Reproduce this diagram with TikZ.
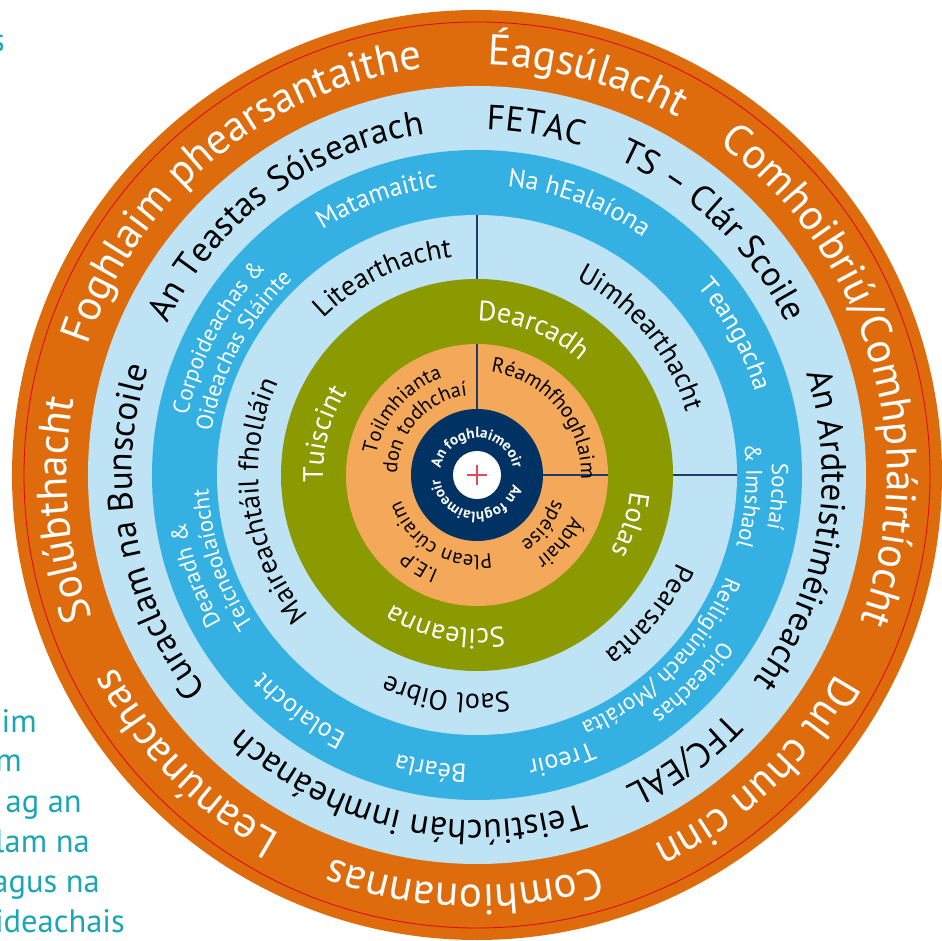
\documentclass[tikz,border=0pt]{standalone}
\usepackage{fontspec}
\setmainfont{PT Sans}
\usetikzlibrary{decorations.text}
\definecolor{orng}{HTML}{DE6B0C}
\definecolor{lblue}{HTML}{BDE3F5}
\definecolor{mblue}{HTML}{34B1E2}
\definecolor{olive}{HTML}{8A9A00}
\definecolor{peach}{HTML}{F4A95A}
\definecolor{navy}{HTML}{003263}
\definecolor{divl}{HTML}{1E3A6E}
\definecolor{redl}{HTML}{E2001A}
\definecolor{crossred}{HTML}{E8465A}
\definecolor{tealt}{HTML}{1BA5B5}
% #1 radius, #2 centre angle, #3 font, #4 colour, #5 text
\newcommand\rtext[5]{%
  \path[decorate,decoration={text along path,text color=#4,text align=center,
    text={|#3|#5}}]
    (#2+120:#1pt) arc[start angle=#2+120,end angle=#2-120,radius=#1pt];}
\newcommand\fO{\fontsize{43}{43}\selectfont}
\newcommand\fA{\fontsize{35}{35}\selectfont}
\newcommand\fB{\fontsize{26}{26}\selectfont}
\newcommand\fBt{\fontsize{23}{23}\selectfont}
\newcommand\fC{\fontsize{28}{28}\selectfont}
\newcommand\fD{\fontsize{28}{28}\selectfont}
\newcommand\fE{\fontsize{21}{21}\selectfont}
\newcommand\fEt{\fontsize{20.5}{20.5}\selectfont}
\newcommand\fN{\fontsize{15}{15}\selectfont\bfseries}
\tikzset{
  divider/.style={draw=divl,line width=1.4pt},
  tealtxt/.style={text=tealt,font=\fontsize{32.5}{32.5}\selectfont,inner sep=0pt,anchor=base east}
}
\begin{document}
\begin{tikzpicture}[x=1pt,y=1pt]
\useasboundingbox (-477,-466) rectangle (465,475);
% rings
\fill[orng] (0,0) circle[radius=465pt];
\draw[redl,line width=0.8pt] (0,0) circle[radius=453pt];
\fill[lblue] (0,0) circle[radius=389pt];
\fill[mblue] (0,0) circle[radius=325pt];
\fill[lblue] (0,0) circle[radius=260pt];
\fill[olive] (0,0) circle[radius=196pt];
\fill[peach] (0,0) circle[radius=131pt];
\fill[navy] (0,0) circle[radius=66pt];
\fill[white] (0,0) circle[radius=24pt];
\draw[crossred,line width=1.3pt] (-10,0) -- (10,0) (0,-10) -- (0,10);
% dividers
\draw[divider] (90:196pt) -- (90:260pt);
\draw[divider] (0:196pt) -- (0:260pt);
\draw[divider] (90:66pt) -- (90:131pt);
\draw[divider] (0:66pt) -- (0:131pt);
% outer orange ring
\rtext{410}{129.6}{\fO}{white}{Foghlaim phearsantaithe}
\rtext{410}{74.6}{\fO}{white}{Éagsúlacht}
\rtext{410}{16.5}{\fO}{white}{Comhoibriú/Comhpháirtíocht}
\rtext{410}{-46.7}{\fO}{white}{Dul chun cinn}
\rtext{410}{-91.8}{\fO}{white}{Comhionannas}
\rtext{410}{-135.4}{\fO}{white}{Leanúnachas}
\rtext{410}{184.8}{\fO}{white}{Solúbthacht}
% outer light blue ring
\rtext{345}{190.2}{\fA}{black}{Curaclam na Bunscoile}
\rtext{345}{126.3}{\fA}{black}{An Teastas Sóisearach}
\rtext{345}{80.4}{\fA}{black}{FETAC}
\rtext{345}{46}{\fA}{black}{TS – Clár Scoile}
\rtext{345}{-9.8}{\fA}{black}{An Ardteistiméireacht}
\rtext{345}{-54}{\fA}{black}{TFC/EAL}
\rtext{345}{-102.5}{\fA}{black}{Teistiúchán inmheánach}
% middle blue ring
\rtext{290}{110}{\fB}{white}{Matamaitic}
\rtext{290}{69.5}{\fB}{white}{Na hEalaíona}
\rtext{290}{28.5}{\fB}{white}{Teangacha}
\rtext{295}{-4.1}{\fBt}{white}{Sochaí}
\rtext{269}{-4.4}{\fBt}{white}{{\&} Imshaol}
\rtext{295}{-43.9}{\fBt}{white}{Oideachas}
\rtext{269}{-44.7}{\fBt}{white}{Reiligiúnach /Morálta}
\rtext{290}{-73.4}{\fB}{white}{Treoir}
\rtext{290}{-99}{\fB}{white}{Béarla}
\rtext{290}{-127}{\fB}{white}{Eolaíocht}
\rtext{295}{199.6}{\fBt}{white}{Dearadh {\&}}
\rtext{269}{198.4}{\fBt}{white}{Teicneolaíocht}
\rtext{295}{152}{\fBt}{white}{Corpoideachas {\&}}
\rtext{269}{152}{\fBt}{white}{Oideachas Sláinte}
% inner light blue ring
\rtext{219}{115.5}{\fC}{black}{Litearthacht}
\rtext{219}{39.9}{\fC}{black}{Uimhearthacht}
\rtext{219}{-39}{\fC}{black}{Pearsanta}
\rtext{219}{-98}{\fC}{black}{Saol Oibre}
\rtext{219}{187.4}{\fC}{black}{Maireachtáil fholláin}
% green ring
\rtext{154}{68.8}{\fD}{white}{Dearcadh}
\rtext{154}{-17.9}{\fD}{white}{Eolas}
\rtext{154}{-101.6}{\fD}{white}{Scileanna}
\rtext{154}{165}{\fD}{white}{Tuiscint}
% peach ring
\rtext{104}{40}{\fE}{black}{Réamhfhoghlaim}
\rtext{103}{139}{\fEt}{black}{Toilmhianta}
\rtext{80}{138}{\fEt}{black}{don todhchaí}
\rtext{103}{-39.4}{\fEt}{black}{Ábhair}
\rtext{80}{-37.6}{\fEt}{black}{spéise}
\rtext{103}{-122}{\fEt}{black}{I.E.P}
\rtext{80}{-120.7}{\fEt}{black}{Plean cúraim}
% navy centre
\rtext{37}{90.5}{\fN}{white}{An foghlaimeoir}
\rtext{37}{-94}{\fN}{white}{An foghlaimeoir}
% teal side text
\node[tealtxt] (s1) at (-472,423) {s};
\node[tealtxt] (s2) at (-440,-258) {him};
\node[tealtxt] (s3) at (-455,-297) {m};
\node[tealtxt] (s4) at (-395,-337) {ag an};
\node[tealtxt] (s5) at (-387,-377) {lam na};
\node[tealtxt] (s6) at (-377,-417) {agus na};
\node[tealtxt] (s7) at (-352,-457) {ideachais};
\end{tikzpicture}
\end{document}
